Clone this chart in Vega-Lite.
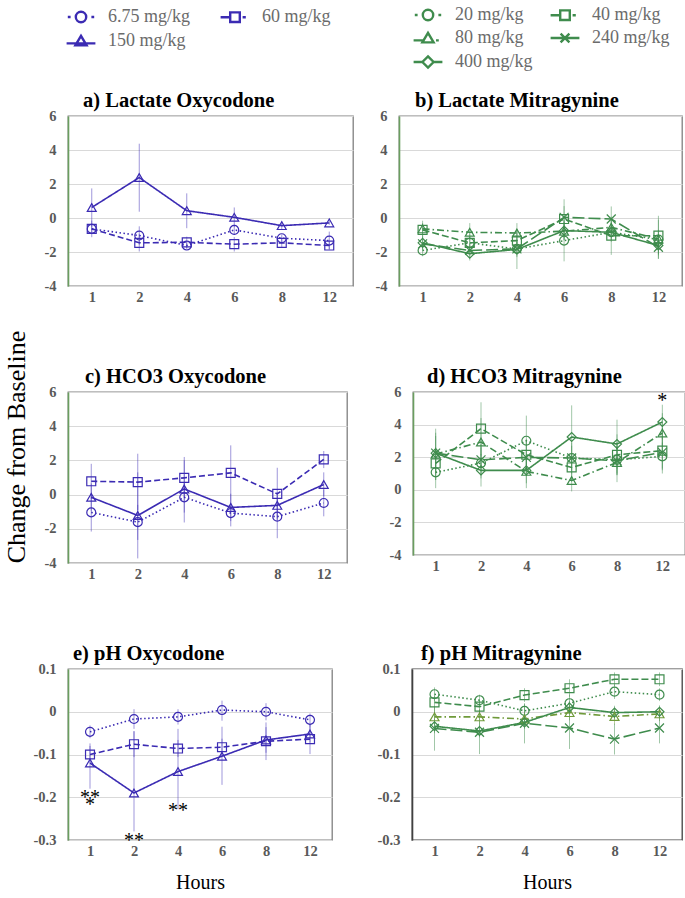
{
  "$schema": "https://vega.github.io/schema/vega-lite/v6.json",
  "padding": {"left": 4, "top": 0, "right": 0, "bottom": 2},
  "title": {"text": "Change from Baseline", "orient": "left", "anchor": "middle", "frame": "bounds", "fontSize": 26, "fontWeight": "normal", "font": "Liberation Serif", "offset": 2, "color": "#000"},
  "config": {
    "font": "Liberation Serif",
    "title": {"font": "Liberation Serif", "fontSize": 20.5, "fontWeight": "bold", "color": "#000", "anchor": "start", "frame": "group", "offset": -3},
    "axis": {"labelFont": "Liberation Serif", "labelFontWeight": "bold", "labelFontSize": 14.5, "labelColor": "#595959", "ticks": false, "titleFont": "Liberation Serif", "titleFontWeight": "normal", "titleColor": "#000"},
    "axisX": {"grid": false, "domain": false, "labelAngle": 0, "labelPadding": 4, "titleFontSize": 20, "titlePadding": 15},
    "axisY": {"grid": true, "gridColor": "#d9d9d9", "gridWidth": 1, "domain": true, "domainColor": "#6a9e5f", "domainWidth": 1.6, "labelPadding": 12},
    "view": {"stroke": "#7f7f7f", "strokeWidth": 1.3}
  },
  "datasets": {
    "legO": [{"d": "6.75 mg/kg"}, {"d": "60 mg/kg"}, {"d": "150 mg/kg"}],
    "legM": [{"d": "20 mg/kg"}, {"d": "40 mg/kg"}, {"d": "80 mg/kg"}, {"d": "240 mg/kg"}, {"d": "400 mg/kg"}],
    "stars": [
      {"p": "d", "h": 12, "v": 5.75, "t": "*"},
      {"p": "e", "h": 1, "v": -0.19, "t": "**"},
      {"p": "e", "h": 1, "v": -0.207, "t": "*"},
      {"p": "e", "h": 2, "v": -0.29, "t": "**"},
      {"p": "e", "h": 4, "v": -0.221, "t": "**"}
    ],
    "obs": [
      {"p": "a", "d": "150 mg/kg", "h": 1, "m": 0.62, "lo": -0.5, "hi": 1.74},
      {"p": "a", "d": "150 mg/kg", "h": 2, "m": 2.38, "lo": 0.37, "hi": 4.37},
      {"p": "a", "d": "150 mg/kg", "h": 4, "m": 0.43, "lo": -0.6, "hi": 1.45},
      {"p": "a", "d": "150 mg/kg", "h": 6, "m": 0.04, "lo": -0.54, "hi": 0.62},
      {"p": "a", "d": "150 mg/kg", "h": 8, "m": -0.45, "lo": -0.7, "hi": -0.21},
      {"p": "a", "d": "150 mg/kg", "h": 12, "m": -0.29, "lo": -0.4, "hi": -0.18},
      {"p": "a", "d": "6.75 mg/kg", "h": 1, "m": -0.64, "lo": -1.13, "hi": -0.15},
      {"p": "a", "d": "6.75 mg/kg", "h": 2, "m": -1.03, "lo": -1.57, "hi": -0.49},
      {"p": "a", "d": "6.75 mg/kg", "h": 4, "m": -1.62, "lo": -1.85, "hi": -1.4},
      {"p": "a", "d": "6.75 mg/kg", "h": 6, "m": -0.7, "lo": -1.0, "hi": -0.4},
      {"p": "a", "d": "6.75 mg/kg", "h": 8, "m": -1.19, "lo": -1.4, "hi": -0.98},
      {"p": "a", "d": "6.75 mg/kg", "h": 12, "m": -1.33, "lo": -1.85, "hi": -0.8},
      {"p": "a", "d": "60 mg/kg", "h": 1, "m": -0.64, "lo": -0.95, "hi": -0.33},
      {"p": "a", "d": "60 mg/kg", "h": 2, "m": -1.46, "lo": -1.97, "hi": -0.95},
      {"p": "a", "d": "60 mg/kg", "h": 4, "m": -1.43, "lo": -1.75, "hi": -1.1},
      {"p": "a", "d": "60 mg/kg", "h": 6, "m": -1.54, "lo": -1.97, "hi": -1.12},
      {"p": "a", "d": "60 mg/kg", "h": 8, "m": -1.46, "lo": -1.75, "hi": -1.17},
      {"p": "a", "d": "60 mg/kg", "h": 12, "m": -1.62, "lo": -1.85, "hi": -1.4},

      {"p": "b", "d": "20 mg/kg", "h": 1, "m": -1.91, "lo": -2.25, "hi": -1.55},
      {"p": "b", "d": "20 mg/kg", "h": 2, "m": -1.46, "lo": -1.8, "hi": -1.1},
      {"p": "b", "d": "20 mg/kg", "h": 4, "m": -1.82, "lo": -2.2, "hi": -1.4},
      {"p": "b", "d": "20 mg/kg", "h": 6, "m": -1.33, "lo": -2.55, "hi": -0.1},
      {"p": "b", "d": "20 mg/kg", "h": 8, "m": -0.84, "lo": -1.4, "hi": -0.3},
      {"p": "b", "d": "20 mg/kg", "h": 12, "m": -1.27, "lo": -2.4, "hi": -0.1},
      {"p": "b", "d": "40 mg/kg", "h": 1, "m": -0.7, "lo": -1.1, "hi": -0.3},
      {"p": "b", "d": "40 mg/kg", "h": 2, "m": -1.46, "lo": -2.0, "hi": -0.9},
      {"p": "b", "d": "40 mg/kg", "h": 4, "m": -1.33, "lo": -1.9, "hi": -0.75},
      {"p": "b", "d": "40 mg/kg", "h": 6, "m": -0.06, "lo": -1.2, "hi": 1.1},
      {"p": "b", "d": "40 mg/kg", "h": 8, "m": -1.04, "lo": -2.17, "hi": 0.08},
      {"p": "b", "d": "40 mg/kg", "h": 12, "m": -1.04, "lo": -2.2, "hi": 0.13},
      {"p": "b", "d": "80 mg/kg", "h": 1, "m": -0.64, "lo": -1.15, "hi": -0.16},
      {"p": "b", "d": "80 mg/kg", "h": 2, "m": -0.84, "lo": -1.3, "hi": -0.3},
      {"p": "b", "d": "80 mg/kg", "h": 4, "m": -0.88, "lo": -1.5, "hi": -0.3},
      {"p": "b", "d": "80 mg/kg", "h": 6, "m": -0.78, "lo": -1.3, "hi": -0.25},
      {"p": "b", "d": "80 mg/kg", "h": 8, "m": -0.55, "lo": -1.0, "hi": -0.1},
      {"p": "b", "d": "80 mg/kg", "h": 12, "m": -1.23, "lo": -1.8, "hi": -0.7},
      {"p": "b", "d": "240 mg/kg", "h": 1, "m": -1.52, "lo": -1.9, "hi": -1.1},
      {"p": "b", "d": "240 mg/kg", "h": 2, "m": -1.91, "lo": -2.3, "hi": -1.5},
      {"p": "b", "d": "240 mg/kg", "h": 4, "m": -1.82, "lo": -3.0, "hi": -0.65},
      {"p": "b", "d": "240 mg/kg", "h": 6, "m": 0.04, "lo": -0.6, "hi": 0.7},
      {"p": "b", "d": "240 mg/kg", "h": 8, "m": -0.06, "lo": -0.8, "hi": 0.68},
      {"p": "b", "d": "240 mg/kg", "h": 12, "m": -1.72, "lo": -2.4, "hi": -1.0},
      {"p": "b", "d": "400 mg/kg", "h": 1, "m": -1.46, "lo": -1.8, "hi": -1.1},
      {"p": "b", "d": "400 mg/kg", "h": 2, "m": -2.1, "lo": -2.5, "hi": -1.7},
      {"p": "b", "d": "400 mg/kg", "h": 4, "m": -1.85, "lo": -2.3, "hi": -1.4},
      {"p": "b", "d": "400 mg/kg", "h": 6, "m": -0.74, "lo": -1.3, "hi": -0.2},
      {"p": "b", "d": "400 mg/kg", "h": 8, "m": -0.84, "lo": -1.3, "hi": -0.4},
      {"p": "b", "d": "400 mg/kg", "h": 12, "m": -1.62, "lo": -2.1, "hi": -1.15},

      {"p": "c", "d": "60 mg/kg", "h": 1, "m": 0.78, "lo": -0.25, "hi": 1.8},
      {"p": "c", "d": "60 mg/kg", "h": 2, "m": 0.73, "lo": -0.9, "hi": 2.39},
      {"p": "c", "d": "60 mg/kg", "h": 4, "m": 0.98, "lo": -0.2, "hi": 2.2},
      {"p": "c", "d": "60 mg/kg", "h": 6, "m": 1.27, "lo": -0.3, "hi": 2.88},
      {"p": "c", "d": "60 mg/kg", "h": 8, "m": 0.04, "lo": -1.5, "hi": 1.57},
      {"p": "c", "d": "60 mg/kg", "h": 12, "m": 2.06, "lo": 1.55, "hi": 2.55},
      {"p": "c", "d": "150 mg/kg", "h": 1, "m": -0.16, "lo": -0.95, "hi": 0.65},
      {"p": "c", "d": "150 mg/kg", "h": 2, "m": -1.22, "lo": -3.73, "hi": 1.3},
      {"p": "c", "d": "150 mg/kg", "h": 4, "m": 0.33, "lo": -1.63, "hi": 2.0},
      {"p": "c", "d": "150 mg/kg", "h": 6, "m": -0.75, "lo": -1.55, "hi": 0.05},
      {"p": "c", "d": "150 mg/kg", "h": 8, "m": -0.63, "lo": -1.4, "hi": 0.15},
      {"p": "c", "d": "150 mg/kg", "h": 12, "m": 0.59, "lo": -0.1, "hi": 1.3},
      {"p": "c", "d": "6.75 mg/kg", "h": 1, "m": -1.04, "lo": -2.16, "hi": 0.08},
      {"p": "c", "d": "6.75 mg/kg", "h": 2, "m": -1.61, "lo": -2.65, "hi": -0.6},
      {"p": "c", "d": "6.75 mg/kg", "h": 4, "m": -0.16, "lo": -1.05, "hi": 0.75},
      {"p": "c", "d": "6.75 mg/kg", "h": 6, "m": -1.08, "lo": -1.86, "hi": -0.3},
      {"p": "c", "d": "6.75 mg/kg", "h": 8, "m": -1.29, "lo": -2.55, "hi": -0.05},
      {"p": "c", "d": "6.75 mg/kg", "h": 12, "m": -0.49, "lo": -1.27, "hi": 0.3},

      {"p": "d", "d": "20 mg/kg", "h": 1, "m": 1.07, "lo": 0.1, "hi": 2.0},
      {"p": "d", "d": "20 mg/kg", "h": 2, "m": 1.64, "lo": 0.7, "hi": 2.6},
      {"p": "d", "d": "20 mg/kg", "h": 4, "m": 3.01, "lo": 1.5, "hi": 4.55},
      {"p": "d", "d": "20 mg/kg", "h": 6, "m": 1.95, "lo": 1.2, "hi": 2.7},
      {"p": "d", "d": "20 mg/kg", "h": 8, "m": 1.84, "lo": 1.0, "hi": 2.7},
      {"p": "d", "d": "20 mg/kg", "h": 12, "m": 2.05, "lo": 1.2, "hi": 2.9},
      {"p": "d", "d": "40 mg/kg", "h": 1, "m": 1.62, "lo": 0.6, "hi": 2.6},
      {"p": "d", "d": "40 mg/kg", "h": 2, "m": 3.75, "lo": 2.1, "hi": 5.37},
      {"p": "d", "d": "40 mg/kg", "h": 4, "m": 2.15, "lo": 1.2, "hi": 3.1},
      {"p": "d", "d": "40 mg/kg", "h": 6, "m": 1.37, "lo": 0.5, "hi": 2.2},
      {"p": "d", "d": "40 mg/kg", "h": 8, "m": 2.15, "lo": 0.9, "hi": 3.4},
      {"p": "d", "d": "40 mg/kg", "h": 12, "m": 2.4, "lo": 1.0, "hi": 3.8},
      {"p": "d", "d": "80 mg/kg", "h": 1, "m": 2.19, "lo": 0.6, "hi": 3.75},
      {"p": "d", "d": "80 mg/kg", "h": 2, "m": 2.93, "lo": 1.4, "hi": 4.4},
      {"p": "d", "d": "80 mg/kg", "h": 4, "m": 1.13, "lo": 0.1, "hi": 2.2},
      {"p": "d", "d": "80 mg/kg", "h": 6, "m": 0.57, "lo": -0.1, "hi": 1.25},
      {"p": "d", "d": "80 mg/kg", "h": 8, "m": 1.68, "lo": 0.47, "hi": 2.9},
      {"p": "d", "d": "80 mg/kg", "h": 12, "m": 3.48, "lo": 2.3, "hi": 4.7},
      {"p": "d", "d": "240 mg/kg", "h": 1, "m": 2.25, "lo": 1.2, "hi": 3.3},
      {"p": "d", "d": "240 mg/kg", "h": 2, "m": 1.84, "lo": 0.9, "hi": 2.8},
      {"p": "d", "d": "240 mg/kg", "h": 4, "m": 1.99, "lo": 1.0, "hi": 3.0},
      {"p": "d", "d": "240 mg/kg", "h": 6, "m": 1.95, "lo": 1.0, "hi": 2.9},
      {"p": "d", "d": "240 mg/kg", "h": 8, "m": 1.78, "lo": 0.9, "hi": 2.7},
      {"p": "d", "d": "240 mg/kg", "h": 12, "m": 2.3, "lo": 1.3, "hi": 3.3},
      {"p": "d", "d": "400 mg/kg", "h": 1, "m": 2.25, "lo": 1.0, "hi": 3.5},
      {"p": "d", "d": "400 mg/kg", "h": 2, "m": 1.19, "lo": 0.2, "hi": 2.2},
      {"p": "d", "d": "400 mg/kg", "h": 4, "m": 1.19, "lo": 0.4, "hi": 2.0},
      {"p": "d", "d": "400 mg/kg", "h": 6, "m": 3.24, "lo": 1.3, "hi": 5.18},
      {"p": "d", "d": "400 mg/kg", "h": 8, "m": 2.81, "lo": 1.3, "hi": 4.3},
      {"p": "d", "d": "400 mg/kg", "h": 12, "m": 4.16, "lo": 3.1, "hi": 5.22},

      {"p": "e", "d": "6.75 mg/kg", "h": 1, "m": -0.047, "lo": -0.062, "hi": -0.032},
      {"p": "e", "d": "6.75 mg/kg", "h": 2, "m": -0.017, "lo": -0.04, "hi": 0.006},
      {"p": "e", "d": "6.75 mg/kg", "h": 4, "m": -0.012, "lo": -0.03, "hi": 0.006},
      {"p": "e", "d": "6.75 mg/kg", "h": 6, "m": 0.004, "lo": -0.021, "hi": 0.026},
      {"p": "e", "d": "6.75 mg/kg", "h": 8, "m": 0.0, "lo": -0.02, "hi": 0.02},
      {"p": "e", "d": "6.75 mg/kg", "h": 12, "m": -0.019, "lo": -0.034, "hi": -0.004},
      {"p": "e", "d": "60 mg/kg", "h": 1, "m": -0.1, "lo": -0.12, "hi": -0.08},
      {"p": "e", "d": "60 mg/kg", "h": 2, "m": -0.076, "lo": -0.106, "hi": -0.046},
      {"p": "e", "d": "60 mg/kg", "h": 4, "m": -0.086, "lo": -0.106, "hi": -0.066},
      {"p": "e", "d": "60 mg/kg", "h": 6, "m": -0.083, "lo": -0.103, "hi": -0.063},
      {"p": "e", "d": "60 mg/kg", "h": 8, "m": -0.069, "lo": -0.113, "hi": -0.025},
      {"p": "e", "d": "60 mg/kg", "h": 12, "m": -0.064, "lo": -0.099, "hi": -0.029},
      {"p": "e", "d": "150 mg/kg", "h": 1, "m": -0.12, "lo": -0.18, "hi": -0.074},
      {"p": "e", "d": "150 mg/kg", "h": 2, "m": -0.19, "lo": -0.28, "hi": -0.045},
      {"p": "e", "d": "150 mg/kg", "h": 4, "m": -0.14, "lo": -0.228, "hi": -0.04},
      {"p": "e", "d": "150 mg/kg", "h": 6, "m": -0.104, "lo": -0.171, "hi": -0.035},
      {"p": "e", "d": "150 mg/kg", "h": 8, "m": -0.066, "lo": -0.096, "hi": -0.036},
      {"p": "e", "d": "150 mg/kg", "h": 12, "m": -0.052, "lo": -0.072, "hi": -0.032},

      {"p": "f", "d": "20 mg/kg", "h": 1, "m": 0.041, "lo": 0.025, "hi": 0.057},
      {"p": "f", "d": "20 mg/kg", "h": 2, "m": 0.027, "lo": 0.014, "hi": 0.04},
      {"p": "f", "d": "20 mg/kg", "h": 4, "m": 0.002, "lo": -0.014, "hi": 0.018},
      {"p": "f", "d": "20 mg/kg", "h": 6, "m": 0.02, "lo": 0.0, "hi": 0.04},
      {"p": "f", "d": "20 mg/kg", "h": 8, "m": 0.047, "lo": 0.03, "hi": 0.064},
      {"p": "f", "d": "20 mg/kg", "h": 12, "m": 0.04, "lo": 0.025, "hi": 0.055},
      {"p": "f", "d": "40 mg/kg", "h": 1, "m": 0.022, "lo": 0.006, "hi": 0.038},
      {"p": "f", "d": "40 mg/kg", "h": 2, "m": 0.012, "lo": -0.004, "hi": 0.028},
      {"p": "f", "d": "40 mg/kg", "h": 4, "m": 0.039, "lo": 0.023, "hi": 0.055},
      {"p": "f", "d": "40 mg/kg", "h": 6, "m": 0.055, "lo": 0.035, "hi": 0.076},
      {"p": "f", "d": "40 mg/kg", "h": 8, "m": 0.076, "lo": 0.06, "hi": 0.092},
      {"p": "f", "d": "40 mg/kg", "h": 12, "m": 0.076, "lo": 0.06, "hi": 0.092},
      {"p": "f", "d": "80 mg/kg", "h": 1, "m": -0.012, "lo": -0.03, "hi": 0.006},
      {"p": "f", "d": "80 mg/kg", "h": 2, "m": -0.012, "lo": -0.03, "hi": 0.006},
      {"p": "f", "d": "80 mg/kg", "h": 4, "m": -0.017, "lo": -0.035, "hi": 0.0},
      {"p": "f", "d": "80 mg/kg", "h": 6, "m": -0.002, "lo": -0.02, "hi": 0.016},
      {"p": "f", "d": "80 mg/kg", "h": 8, "m": -0.011, "lo": -0.03, "hi": 0.008},
      {"p": "f", "d": "80 mg/kg", "h": 12, "m": -0.005, "lo": -0.022, "hi": 0.012},
      {"p": "f", "d": "240 mg/kg", "h": 1, "m": -0.039, "lo": -0.091, "hi": 0.013},
      {"p": "f", "d": "240 mg/kg", "h": 2, "m": -0.048, "lo": -0.099, "hi": 0.003},
      {"p": "f", "d": "240 mg/kg", "h": 4, "m": -0.027, "lo": -0.074, "hi": 0.02},
      {"p": "f", "d": "240 mg/kg", "h": 6, "m": -0.038, "lo": -0.087, "hi": 0.011},
      {"p": "f", "d": "240 mg/kg", "h": 8, "m": -0.064, "lo": -0.1, "hi": -0.028},
      {"p": "f", "d": "240 mg/kg", "h": 12, "m": -0.038, "lo": -0.074, "hi": -0.002},
      {"p": "f", "d": "400 mg/kg", "h": 1, "m": -0.034, "lo": -0.05, "hi": -0.018},
      {"p": "f", "d": "400 mg/kg", "h": 2, "m": -0.045, "lo": -0.06, "hi": -0.03},
      {"p": "f", "d": "400 mg/kg", "h": 4, "m": -0.025, "lo": -0.04, "hi": -0.01},
      {"p": "f", "d": "400 mg/kg", "h": 6, "m": 0.01, "lo": -0.005, "hi": 0.025},
      {"p": "f", "d": "400 mg/kg", "h": 8, "m": -0.002, "lo": -0.018, "hi": 0.014},
      {"p": "f", "d": "400 mg/kg", "h": 12, "m": 0.0, "lo": -0.015, "hi": 0.015}
    ]
  },
  "spacing": 16,
  "vconcat": [
    {
      "hconcat": [
        {
          "width": 330, "height": 1, "view": {"stroke": null},
          "data": {"name": "legO"},
          "mark": {"type": "point", "opacity": 0, "size": 64, "filled": false},
          "encoding": {
            "color": {"field": "d", "type": "nominal", "scale": {"domain": ["6.75 mg/kg", "60 mg/kg", "150 mg/kg"], "range": ["#3b2bb3", "#3b2bb3", "#3b2bb3"]},
              "legend": {"title": null, "orient": "none", "legendX": 4, "legendY": 2, "direction": "horizontal", "columns": 2, "columnPadding": 24, "rowPadding": 4, "symbolSize": 64, "symbolStrokeWidth": 2.4, "symbolOpacity": 1, "labelOffset": 18, "labelFont": "Liberation Serif", "labelFontSize": 18, "labelColor": "#6b6b6b", "labelLimit": 200, "padding": 0}},
            "shape": {"field": "d", "type": "nominal", "scale": {"domain": ["6.75 mg/kg", "60 mg/kg", "150 mg/kg"], "range": ["M-3.3,0H-2.6M2.6,0H3.3M-1.3,0A1.3,1.3,0,1,0,1.3,0A1.3,1.3,0,1,0,-1.3,0", "M-3.6,0H-1.2M1.9,0H2.7M-1.2,-1.2H1.2V1.2H-1.2Z", "M-3.6,0.6H3.6M0,-1.3L1.4,1.1H-1.4Z"]},
              "legend": {"title": null, "orient": "none", "legendX": 4, "legendY": 2, "direction": "horizontal", "columns": 2, "columnPadding": 24, "rowPadding": 4, "symbolSize": 64, "symbolStrokeWidth": 2.4, "symbolOpacity": 1, "labelOffset": 18, "labelFont": "Liberation Serif", "labelFontSize": 18, "labelColor": "#6b6b6b", "labelLimit": 200, "padding": 0}}
          }
        },
        {
          "width": 300, "height": 1, "view": {"stroke": null},
          "data": {"name": "legM"},
          "mark": {"type": "point", "opacity": 0, "size": 64, "filled": false},
          "encoding": {
            "color": {"field": "d", "type": "nominal", "scale": {"domain": ["20 mg/kg", "40 mg/kg", "80 mg/kg", "240 mg/kg", "400 mg/kg"], "range": ["#3f8c4d", "#3f8c4d", "#3f8c4d", "#3f8c4d", "#3f8c4d"]},
              "legend": {"title": null, "orient": "none", "legendX": 21, "legendY": 0, "direction": "horizontal", "columns": 2, "columnPadding": 12, "rowPadding": 3, "symbolSize": 64, "symbolStrokeWidth": 2.4, "symbolOpacity": 1, "labelOffset": 18, "labelFont": "Liberation Serif", "labelFontSize": 18, "labelColor": "#6b6b6b", "labelLimit": 200, "padding": 0}},
            "shape": {"field": "d", "type": "nominal", "scale": {"domain": ["20 mg/kg", "40 mg/kg", "80 mg/kg", "240 mg/kg", "400 mg/kg"], "range": ["M-3.3,0H-2.6M2.6,0H3.3M-1.3,0A1.3,1.3,0,1,0,1.3,0A1.3,1.3,0,1,0,-1.3,0", "M-3.6,0H-1.2M1.9,0H2.7M-1.2,-1.2H1.2V1.2H-1.2Z", "M-3.6,0.6H-1.1M2.0,0.6H2.7M0,-1.3L1.4,1.1H-1.4Z", "M-3.6,0H3.6M-1.1,-1.1L1.1,1.1M-1.1,1.1L1.1,-1.1", "M-3.6,0H-1.4M1.4,0H3.6M0,-1.4L1.4,0L0,1.4L-1.4,0Z"]},
              "legend": {"title": null, "orient": "none", "legendX": 21, "legendY": 0, "direction": "horizontal", "columns": 2, "columnPadding": 12, "rowPadding": 3, "symbolSize": 64, "symbolStrokeWidth": 2.4, "symbolOpacity": 1, "labelOffset": 18, "labelFont": "Liberation Serif", "labelFontSize": 18, "labelColor": "#6b6b6b", "labelLimit": 200, "padding": 0}}
          }
        }
      ],
      "spacing": 0,
      "resolve": {"scale": {"color": "independent", "shape": "independent", "strokeDash": "independent"}}
    },
    {
      "spacing": 60,
      "vconcat": [
        {
          "spacing": 20,
          "resolve": {"scale": {"color": "independent", "shape": "independent", "strokeDash": "independent"}},
          "hconcat": [
            {
              "width": 285, "height": 170,
              "title": {"text": "a) Lactate Oxycodone", "dx": 15},
              "data": {"name": "obs"},
              "transform": [{"filter": "datum.p === 'a'"}],
              "encoding": {
                "x": {"field": "h", "type": "ordinal", "title": null, "scale": {"type": "point", "padding": 0.5, "domain": [1, 2, 4, 6, 8, 12]}},
                "color": {"field": "d", "type": "nominal", "scale": {"domain": ["6.75 mg/kg", "60 mg/kg", "150 mg/kg"], "range": ["#3b2bb3", "#3b2bb3", "#3b2bb3"]}, "legend": null}
              },
              "layer": [
                {"mark": {"type": "rule", "strokeWidth": 0.9, "opacity": 0.55},
                 "encoding": {"y": {"field": "lo", "type": "quantitative", "title": null, "scale": {"domain": [-4, 6], "nice": false, "zero": false}, "axis": {"values": [-4, -2, 0, 2, 4, 6], "labelExpr": "'' + datum.value"}}, "y2": {"field": "hi"}}},
                {"mark": {"type": "line", "strokeWidth": 1.6},
                 "encoding": {"y": {"field": "m", "type": "quantitative", "title": null, "scale": {"domain": [-4, 6], "nice": false, "zero": false}, "axis": {"values": [-4, -2, 0, 2, 4, 6], "labelExpr": "'' + datum.value"}},
                   "strokeDash": {"field": "d", "type": "nominal", "scale": {"domain": ["6.75 mg/kg", "60 mg/kg", "150 mg/kg"], "range": [[1.5, 2.5], [6, 3], [1, 0]]}, "legend": null}}},
                {"mark": {"type": "point", "filled": false, "size": 80, "strokeWidth": 1.2, "opacity": 1},
                 "encoding": {"y": {"field": "m", "type": "quantitative", "title": null, "scale": {"domain": [-4, 6], "nice": false, "zero": false}, "axis": {"values": [-4, -2, 0, 2, 4, 6], "labelExpr": "'' + datum.value"}},
                   "shape": {"field": "d", "type": "nominal", "scale": {"domain": ["6.75 mg/kg", "60 mg/kg", "150 mg/kg"], "range": ["circle", "square", "triangle-up"]}, "legend": null}}}
              ]
            },
            {
              "width": 283, "height": 170,
              "title": {"text": "b) Lactate Mitragynine", "dx": 16},
              "data": {"name": "obs"},
              "transform": [{"filter": "datum.p === 'b'"}],
              "encoding": {
                "x": {"field": "h", "type": "ordinal", "title": null, "scale": {"type": "point", "padding": 0.5, "domain": [1, 2, 4, 6, 8, 12]}},
                "color": {"field": "d", "type": "nominal", "scale": {"domain": ["20 mg/kg", "40 mg/kg", "80 mg/kg", "240 mg/kg", "400 mg/kg"], "range": ["#3f8c4d", "#3f8c4d", "#3f8c4d", "#3f8c4d", "#3f8c4d"]}, "legend": null}
              },
              "layer": [
                {"mark": {"type": "rule", "strokeWidth": 0.9, "opacity": 0.55},
                 "encoding": {"y": {"field": "lo", "type": "quantitative", "title": null, "scale": {"domain": [-4, 6], "nice": false, "zero": false}, "axis": {"values": [-4, -2, 0, 2, 4, 6], "labelExpr": "'' + datum.value"}}, "y2": {"field": "hi"}}},
                {"mark": {"type": "line", "strokeWidth": 1.6},
                 "encoding": {"y": {"field": "m", "type": "quantitative", "title": null, "scale": {"domain": [-4, 6], "nice": false, "zero": false}, "axis": {"values": [-4, -2, 0, 2, 4, 6], "labelExpr": "'' + datum.value"}},
                   "strokeDash": {"field": "d", "type": "nominal", "scale": {"domain": ["20 mg/kg", "40 mg/kg", "80 mg/kg", "240 mg/kg", "400 mg/kg"], "range": [[1.5, 2.5], [7, 3], [7, 3, 1.5, 3], [12, 4], [1, 0]]}, "legend": null}}},
                {"mark": {"type": "point", "filled": false, "size": 80, "strokeWidth": 1.2, "opacity": 1},
                 "encoding": {"y": {"field": "m", "type": "quantitative", "title": null, "scale": {"domain": [-4, 6], "nice": false, "zero": false}, "axis": {"values": [-4, -2, 0, 2, 4, 6], "labelExpr": "'' + datum.value"}},
                   "shape": {"field": "d", "type": "nominal", "scale": {"domain": ["20 mg/kg", "40 mg/kg", "80 mg/kg", "240 mg/kg", "400 mg/kg"], "range": ["circle", "square", "triangle-up", "M-1,-1L1,1M-1,1L1,-1", "diamond"]}, "legend": null}}}
              ]
            }
          ]
        },
        {
          "spacing": 40,
          "resolve": {"scale": {"color": "independent", "shape": "independent", "strokeDash": "independent"}},
          "hconcat": [
            {
              "width": 279, "height": 171,
              "title": {"text": "c) HCO3 Oxycodone", "dx": 17},
              "data": {"name": "obs"},
              "transform": [{"filter": "datum.p === 'c'"}],
              "encoding": {
                "x": {"field": "h", "type": "ordinal", "title": null, "scale": {"type": "point", "padding": 0.5, "domain": [1, 2, 4, 6, 8, 12]}},
                "color": {"field": "d", "type": "nominal", "scale": {"domain": ["6.75 mg/kg", "60 mg/kg", "150 mg/kg"], "range": ["#3b2bb3", "#3b2bb3", "#3b2bb3"]}, "legend": null}
              },
              "layer": [
                {"mark": {"type": "rule", "strokeWidth": 0.9, "opacity": 0.55},
                 "encoding": {"y": {"field": "lo", "type": "quantitative", "title": null, "scale": {"domain": [-4, 6], "nice": false, "zero": false}, "axis": {"values": [-4, -2, 0, 2, 4, 6], "labelExpr": "'' + datum.value"}}, "y2": {"field": "hi"}}},
                {"mark": {"type": "line", "strokeWidth": 1.6},
                 "encoding": {"y": {"field": "m", "type": "quantitative", "title": null, "scale": {"domain": [-4, 6], "nice": false, "zero": false}, "axis": {"values": [-4, -2, 0, 2, 4, 6], "labelExpr": "'' + datum.value"}},
                   "strokeDash": {"field": "d", "type": "nominal", "scale": {"domain": ["6.75 mg/kg", "60 mg/kg", "150 mg/kg"], "range": [[1.5, 2.5], [6, 3], [1, 0]]}, "legend": null}}},
                {"mark": {"type": "point", "filled": false, "size": 80, "strokeWidth": 1.2, "opacity": 1},
                 "encoding": {"y": {"field": "m", "type": "quantitative", "title": null, "scale": {"domain": [-4, 6], "nice": false, "zero": false}, "axis": {"values": [-4, -2, 0, 2, 4, 6], "labelExpr": "'' + datum.value"}},
                   "shape": {"field": "d", "type": "nominal", "scale": {"domain": ["6.75 mg/kg", "60 mg/kg", "150 mg/kg"], "range": ["circle", "square", "triangle-up"]}, "legend": null}}}
              ]
            },
            {
              "width": 272, "height": 163,
              "title": {"text": "d) HCO3 Mitragynine", "dx": 14},
              "data": {"name": "obs"},
              "transform": [{"filter": "datum.p === 'd'"}],
              "encoding": {
                "x": {"field": "h", "type": "ordinal", "title": null, "scale": {"type": "point", "padding": 0.5, "domain": [1, 2, 4, 6, 8, 12]}},
                "color": {"field": "d", "type": "nominal", "scale": {"domain": ["20 mg/kg", "40 mg/kg", "80 mg/kg", "240 mg/kg", "400 mg/kg"], "range": ["#3f8c4d", "#3f8c4d", "#3f8c4d", "#3f8c4d", "#3f8c4d"]}, "legend": null}
              },
              "layer": [
                {"mark": {"type": "rule", "strokeWidth": 0.9, "opacity": 0.55},
                 "encoding": {"y": {"field": "lo", "type": "quantitative", "title": null, "scale": {"domain": [-4, 6], "nice": false, "zero": false}, "axis": {"values": [-4, -2, 0, 2, 4, 6], "labelExpr": "'' + datum.value"}}, "y2": {"field": "hi"}}},
                {"mark": {"type": "line", "strokeWidth": 1.6},
                 "encoding": {"y": {"field": "m", "type": "quantitative", "title": null, "scale": {"domain": [-4, 6], "nice": false, "zero": false}, "axis": {"values": [-4, -2, 0, 2, 4, 6], "labelExpr": "'' + datum.value"}},
                   "strokeDash": {"field": "d", "type": "nominal", "scale": {"domain": ["20 mg/kg", "40 mg/kg", "80 mg/kg", "240 mg/kg", "400 mg/kg"], "range": [[1.5, 2.5], [7, 3], [7, 3, 1.5, 3], [12, 4], [1, 0]]}, "legend": null}}},
                {"mark": {"type": "point", "filled": false, "size": 80, "strokeWidth": 1.2, "opacity": 1},
                 "encoding": {"y": {"field": "m", "type": "quantitative", "title": null, "scale": {"domain": [-4, 6], "nice": false, "zero": false}, "axis": {"values": [-4, -2, 0, 2, 4, 6], "labelExpr": "'' + datum.value"}},
                   "shape": {"field": "d", "type": "nominal", "scale": {"domain": ["20 mg/kg", "40 mg/kg", "80 mg/kg", "240 mg/kg", "400 mg/kg"], "range": ["circle", "square", "triangle-up", "M-1,-1L1,1M-1,1L1,-1", "diamond"]}, "legend": null}}},
                {"data": {"name": "stars"}, "transform": [{"filter": "datum.p === 'd'"}],
                 "mark": {"type": "text", "font": "Liberation Serif", "fontSize": 20, "baseline": "middle", "dy": 5},
                 "encoding": {"y": {"field": "v", "type": "quantitative", "title": null, "scale": {"domain": [-4, 6], "nice": false, "zero": false}, "axis": {"values": [-4, -2, 0, 2, 4, 6], "labelExpr": "'' + datum.value"}},
                   "text": {"field": "t"}, "color": {"value": "#000"}}}
              ]
            }
          ]
        },
        {
          "spacing": 43,
          "resolve": {"scale": {"color": "independent", "shape": "independent", "strokeDash": "independent"}},
          "hconcat": [
            {
              "width": 264, "height": 171,
              "title": {"text": "e) pH Oxycodone", "dx": 5},
              "data": {"name": "obs"},
              "transform": [{"filter": "datum.p === 'e'"}],
              "encoding": {
                "x": {"field": "h", "type": "ordinal", "title": "Hours", "scale": {"type": "point", "padding": 0.5, "domain": [1, 2, 4, 6, 8, 12]}},
                "color": {"field": "d", "type": "nominal", "scale": {"domain": ["6.75 mg/kg", "60 mg/kg", "150 mg/kg"], "range": ["#3b2bb3", "#3b2bb3", "#3b2bb3"]}, "legend": null}
              },
              "layer": [
                {"mark": {"type": "rule", "strokeWidth": 0.9, "opacity": 0.55},
                 "encoding": {"y": {"field": "lo", "type": "quantitative", "title": null, "scale": {"domain": [-0.3, 0.1], "nice": false, "zero": false}, "axis": {"values": [-0.3, -0.2, -0.1, 0, 0.1], "labelExpr": "'' + datum.value"}}, "y2": {"field": "hi"}}},
                {"mark": {"type": "line", "strokeWidth": 1.6},
                 "encoding": {"y": {"field": "m", "type": "quantitative", "title": null, "scale": {"domain": [-0.3, 0.1], "nice": false, "zero": false}, "axis": {"values": [-0.3, -0.2, -0.1, 0, 0.1], "labelExpr": "'' + datum.value"}},
                   "strokeDash": {"field": "d", "type": "nominal", "scale": {"domain": ["6.75 mg/kg", "60 mg/kg", "150 mg/kg"], "range": [[1.5, 2.5], [6, 3], [1, 0]]}, "legend": null}}},
                {"mark": {"type": "point", "filled": false, "size": 80, "strokeWidth": 1.2, "opacity": 1},
                 "encoding": {"y": {"field": "m", "type": "quantitative", "title": null, "scale": {"domain": [-0.3, 0.1], "nice": false, "zero": false}, "axis": {"values": [-0.3, -0.2, -0.1, 0, 0.1], "labelExpr": "'' + datum.value"}},
                   "shape": {"field": "d", "type": "nominal", "scale": {"domain": ["6.75 mg/kg", "60 mg/kg", "150 mg/kg"], "range": ["circle", "square", "triangle-up"]}, "legend": null}}},
                {"data": {"name": "stars"}, "transform": [{"filter": "datum.p === 'e'"}],
                 "mark": {"type": "text", "font": "Liberation Serif", "fontSize": 20, "baseline": "middle", "dy": 5},
                 "encoding": {"y": {"field": "v", "type": "quantitative", "title": null, "scale": {"domain": [-0.3, 0.1], "nice": false, "zero": false}, "axis": {"values": [-0.3, -0.2, -0.1, 0, 0.1], "labelExpr": "'' + datum.value"}},
                   "text": {"field": "t"}, "color": {"value": "#000"}}}
              ]
            },
            {
              "width": 270, "height": 171,
              "view": {"stroke": "#404040"},
              "title": {"text": "f) pH Mitragynine", "dx": 9},
              "data": {"name": "obs"},
              "transform": [{"filter": "datum.p === 'f'"}],
              "encoding": {
                "x": {"field": "h", "type": "ordinal", "title": "Hours", "scale": {"type": "point", "padding": 0.5, "domain": [1, 2, 4, 6, 8, 12]}},
                "color": {"field": "d", "type": "nominal", "scale": {"domain": ["20 mg/kg", "40 mg/kg", "80 mg/kg", "240 mg/kg", "400 mg/kg"], "range": ["#3f8c4d", "#3f8c4d", "#6f9a3a", "#3f8c4d", "#3f8c4d"]}, "legend": null}
              },
              "layer": [
                {"mark": {"type": "rule", "strokeWidth": 0.9, "opacity": 0.55},
                 "encoding": {"y": {"field": "lo", "type": "quantitative", "title": null, "scale": {"domain": [-0.3, 0.1], "nice": false, "zero": false}, "axis": {"values": [-0.3, -0.2, -0.1, 0, 0.1], "labelExpr": "'' + datum.value", "domainColor": "#404040"}}, "y2": {"field": "hi"}}},
                {"mark": {"type": "line", "strokeWidth": 1.6},
                 "encoding": {"y": {"field": "m", "type": "quantitative", "title": null, "scale": {"domain": [-0.3, 0.1], "nice": false, "zero": false}, "axis": {"values": [-0.3, -0.2, -0.1, 0, 0.1], "labelExpr": "'' + datum.value", "domainColor": "#404040"}},
                   "strokeDash": {"field": "d", "type": "nominal", "scale": {"domain": ["20 mg/kg", "40 mg/kg", "80 mg/kg", "240 mg/kg", "400 mg/kg"], "range": [[1.5, 2.5], [7, 3], [7, 3, 1.5, 3], [12, 4], [1, 0]]}, "legend": null}}},
                {"mark": {"type": "point", "filled": false, "size": 80, "strokeWidth": 1.2, "opacity": 1},
                 "encoding": {"y": {"field": "m", "type": "quantitative", "title": null, "scale": {"domain": [-0.3, 0.1], "nice": false, "zero": false}, "axis": {"values": [-0.3, -0.2, -0.1, 0, 0.1], "labelExpr": "'' + datum.value", "domainColor": "#404040"}},
                   "shape": {"field": "d", "type": "nominal", "scale": {"domain": ["20 mg/kg", "40 mg/kg", "80 mg/kg", "240 mg/kg", "400 mg/kg"], "range": ["circle", "square", "triangle-up", "M-1,-1L1,1M-1,1L1,-1", "diamond"]}, "legend": null}}}
              ]
            }
          ]
        }
      ]
    }
  ]
}
